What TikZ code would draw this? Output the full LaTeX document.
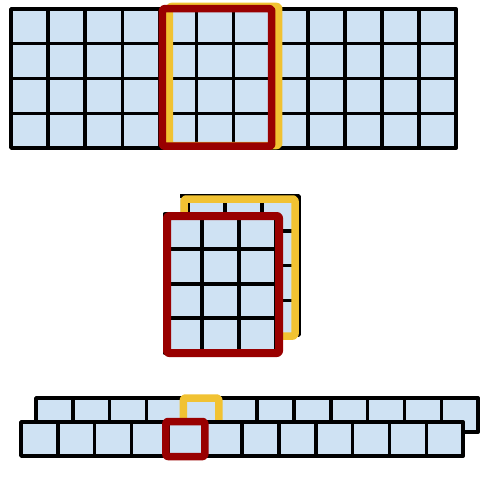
\documentclass[tikz,border=0pt]{standalone}
\usepackage{tikz}
\usepackage{color}
\definecolor{cellblue}{RGB}{207,226,243}
\definecolor{winred}{RGB}{153,0,0}
\definecolor{winyellow}{RGB}{241,194,50}

\begin{document}
\begin{tikzpicture}[
      x=1pt,y=-1pt,
      cell/.style={
         rectangle,
         inner sep=0pt,
         outer sep=0pt,
         minimum width=37.1pt,
         minimum height=34.75pt,
         line width=3.5pt,
         draw=black,
         fill=cellblue,
      },
      slimcell/.style={
         cell,
         minimum width=36.85pt,
         minimum height=34pt,
      },
      redwin/.style={draw=winred, line width=7.5pt, rounded corners=2pt},
      yellowwin/.style={draw=winyellow, line width=7.5pt, rounded corners=2pt},
      line join=round
    ]
    \useasboundingbox (0,0) rectangle (494,476);
    % full map
    \foreach \r in {1,...,4}
      \foreach \c in {1,...,12}
        \node (t-\r-\c) [cell] at ({11+37.1*(\c-0.5)},{9+34.75*(\r-0.5)}) {};
    \draw[yellowwin] ([shift={(10,-2.5)}]t-1-5.north west) rectangle ([shift={(8,-2.5)}]t-4-7.south east);
    \draw[redwin] ([shift={(3,-0.3)}]t-1-5.north west) rectangle ([shift={(1,-1.8)}]t-4-7.south east);
    % cut out windows
    \begin{scope}
      \clip (180,190) rectangle (305,345);
      \foreach \r in {1,...,4}
        \foreach \c in {1,...,4}
          \node (k-\r-\c) [cell, minimum width=37pt] at ({151+37*(\c-0.5)},{196+34.75*(\r-0.5)}) {};
    \end{scope}
    \draw[yellowwin] (184,199) rectangle (295,336);
    \foreach \r in {1,...,4}
      \foreach \c in {1,...,3}
        \node (m-\r-\c) [cell, minimum width=37pt, line width=4pt] at ({164.5+37*(\c-0.5)},{214+34.75*(\r-0.5)}) {};
    \draw[redwin, line width=8pt] ([shift={(2.5,2)}]m-1-1.north west) rectangle ([shift={(3.5,0)}]m-4-3.south east);
    % flattened rows
    \foreach \c in {1,...,12}
      \node (b-\c) [slimcell] at ({36+36.85*(\c-0.5)},415) {};
    \draw[yellowwin] (b-5.north west) rectangle ([shift={(-1.5,0)}]b-5.south east);
    \foreach \c in {1,...,12}
      \node (f-\c) [slimcell] at ({21+36.85*(\c-0.5)},439) {};
    \draw[redwin] ([shift={(-2.5,-0.5)}]f-5.north west) rectangle ([shift={(-0.5,0.5)}]f-5.south east);
\end{tikzpicture}
\end{document}
